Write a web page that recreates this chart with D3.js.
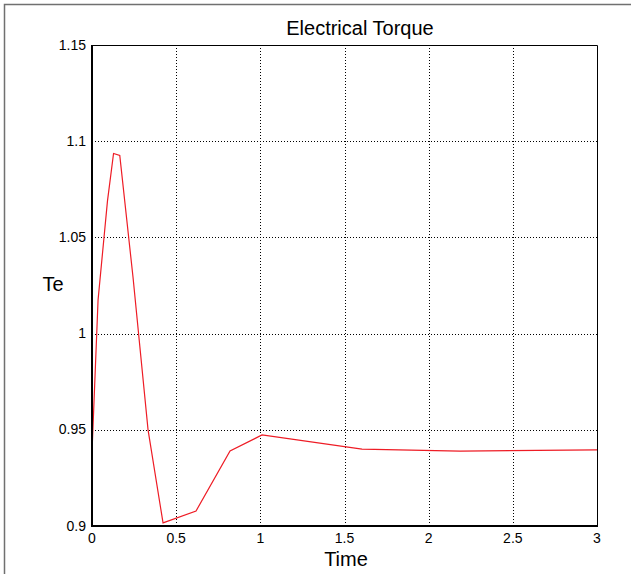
<!DOCTYPE html>
<html lang="en">
  <head>
    <meta charset="UTF-8" />
    <title>Electrical Torque</title>
    <script src="https://d3js.org/d3.v7.min.js"></script>
    <style>
      * {
        margin: 0;
        padding: 0;
      }
      body {
        background: #fff;
      }
      text {
        font-family: "Liberation Sans", Arial, sans-serif;
        fill: #000;
      }
      .tick-label {
        font-size: 14px;
      }
    </style>
  </head>

  <body></body>

  <script>
    // 数据
    let time = [0, 0.036, 0.092, 0.128, 0.165, 0.244, 0.333, 0.422, 0.618, 0.82, 1.01, 1.604, 2.187, 3];
    let te = [0.9385, 1.0175, 1.069, 1.0936, 1.0926, 1.029, 0.95, 0.9016, 0.9078, 0.939, 0.9473, 0.94, 0.9389, 0.9396];
    let xTicks = [0, 0.5, 1, 1.5, 2, 2.5, 3];
    let yTicks = [0.9, 0.95, 1, 1.05, 1.1, 1.15];
    let xTickLabels = ["0", "0.5", "1", "1.5", "2", "2.5", "3"];
    let yTickLabels = ["0.9", "0.95", "1", "1.05", "1.1", "1.15"];

    let w = 631;
    let h = 574;
    let pLeft = 92, pRight = 597, pTop = 45, pBottom = 526;

    let svg = d3
      .select("body")
      .append("svg")
      .attr("width", w)
      .attr("height", h);

    // 外框
    svg.append("path")
      .attr("d", `M4.5,${h} L4.5,4.5 L${w},4.5`)
      .attr("fill", "none")
      .attr("stroke", "#707070")
      .attr("stroke-width", 1.5);

    let x = d3.scaleLinear().domain([0, 3]).range([pLeft, pRight]);
    let y = d3.scaleLinear().domain([0.9, 1.15]).range([pBottom, pTop]);

    // 网格
    let grid = svg.append("g").attr("class", "grid");
    grid.selectAll("line.vx")
      .data(xTicks.slice(1, -1))
      .enter()
      .append("line")
      .attr("x1", (d) => Math.round(x(d)) + 0.5)
      .attr("x2", (d) => Math.round(x(d)) + 0.5)
      .attr("y1", pTop)
      .attr("y2", pBottom)
      .attr("stroke", "#000")
      .attr("stroke-dasharray", "1,2");
    grid.selectAll("line.hy")
      .data(yTicks.slice(1, -1))
      .enter()
      .append("line")
      .attr("y1", (d) => Math.round(y(d)) + 0.5)
      .attr("y2", (d) => Math.round(y(d)) + 0.5)
      .attr("x1", pLeft)
      .attr("x2", pRight)
      .attr("stroke", "#000")
      .attr("stroke-dasharray", "1,2");

    // 曲线
    let line = d3.line().x((d, i) => x(time[i])).y((d) => y(d));
    svg.append("path")
      .datum(te)
      .attr("d", line)
      .attr("fill", "none")
      .attr("stroke", "#ee1c25")
      .attr("stroke-width", 1.2);

    // 坐标框
    svg.append("path")
      .attr("d", `M${pLeft},${pTop + 0.5} L${pRight + 0.5},${pTop + 0.5} L${pRight + 0.5},${pBottom}`)
      .attr("fill", "none")
      .attr("stroke", "#000")
      .attr("stroke-width", 1);
    svg.append("path")
      .attr("d", `M${pLeft},${pTop} L${pLeft},${pBottom} L${pRight + 1},${pBottom}`)
      .attr("fill", "none")
      .attr("stroke", "#000")
      .attr("stroke-width", 2);

    // 刻度标签
    svg.selectAll("text.xt")
      .data(xTicks)
      .enter()
      .append("text")
      .attr("class", "tick-label")
      .attr("x", (d) => x(d))
      .attr("y", 543)
      .attr("text-anchor", "middle")
      .text((d, i) => xTickLabels[i]);
    svg.selectAll("text.yt")
      .data(yTicks)
      .enter()
      .append("text")
      .attr("class", "tick-label")
      .attr("x", 86)
      .attr("y", (d) => y(d) + 4.5)
      .attr("text-anchor", "end")
      .text((d, i) => yTickLabels[i]);

    // 标题
    svg.append("text")
      .attr("x", 360)
      .attr("y", 35)
      .attr("text-anchor", "middle")
      .style("font-size", "20px")
      .text("Electrical Torque");
    svg.append("text")
      .attr("x", 346)
      .attr("y", 566)
      .attr("text-anchor", "middle")
      .style("font-size", "20px")
      .text("Time");
    svg.append("text")
      .attr("x", 53)
      .attr("y", 291)
      .attr("text-anchor", "middle")
      .style("font-size", "20px")
      .text("Te");
  </script>
</html>
